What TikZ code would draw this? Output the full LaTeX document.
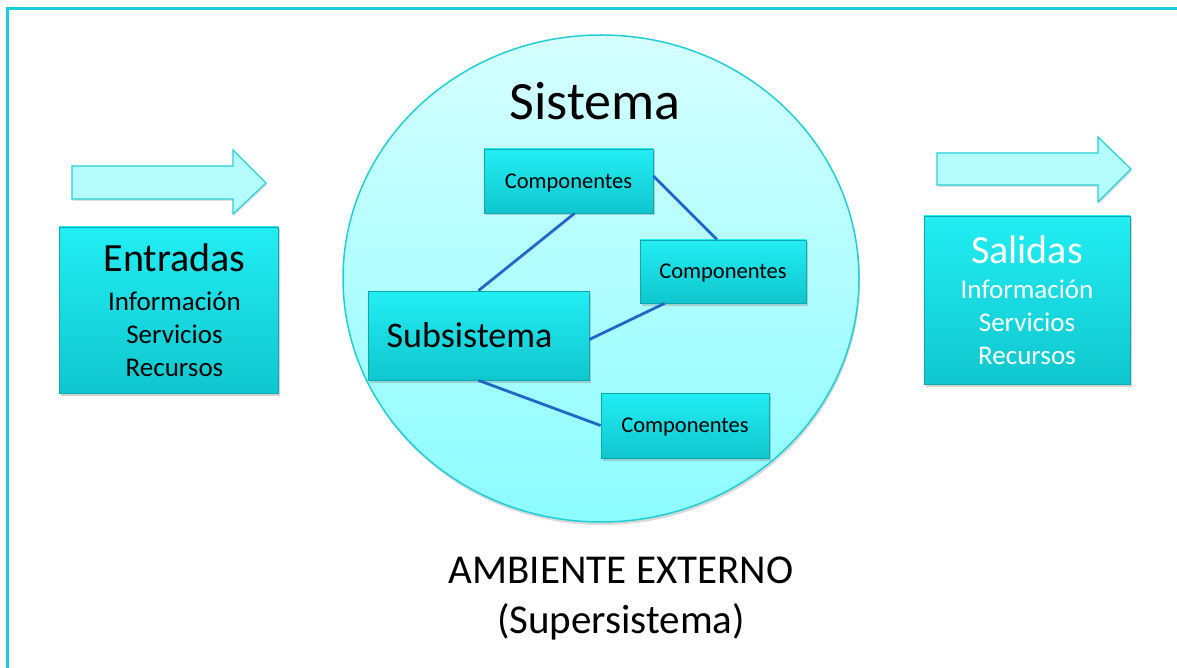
\documentclass[tikz,border=0pt]{standalone}
\usepackage{fontspec}
\setmainfont{Carlito}
\usepackage{xcolor}
\usepackage{tikz}
\usetikzlibrary{
	shapes,
	shadows,
	positioning,
	}

\definecolor{marco}{RGB}{26,206,217}
\definecolor{flechafondo}{RGB}{181,252,253}
\definecolor{flechaborde}{RGB}{38,208,216}
\definecolor{cajaarriba}{RGB}{34,238,243}
\definecolor{cajaabajo}{RGB}{16,198,206}
\definecolor{cajaborde}{RGB}{14,168,176}
\definecolor{azul}{RGB}{31,104,200}
\definecolor{circarriba}{RGB}{214,255,255}
\definecolor{circabajo}{RGB}{140,252,255}
\definecolor{circborde}{RGB}{34,206,214}

\begin{document}
\begin{tikzpicture}[x=1pt, y=-1pt,
	caja/.style={draw=cajaborde, line width=0.8pt, top color=cajaarriba, bottom color=cajaabajo, align=center, inner sep=0pt, drop shadow={opacity=0.35, shadow xshift=1.5pt, shadow yshift=-2.5pt}},
	comp/.style={caja, minimum height=64pt, text depth=0pt, font=\fontsize{22.5}{27}\selectfont},
	flecha/.style={draw=flechaborde, line width=1.2pt, fill=flechafondo, drop shadow={opacity=0.25, shadow xshift=1pt, shadow yshift=-2pt}},
	enlace/.style={draw=azul, line width=2.8pt},
	]
	\useasboundingbox (0,0) rectangle (1177,668);
	\draw[marco, line width=3.5pt] (7.5,668) |- (1177,8.5);
	\draw[flecha] (72,166) -- (233,166) -- (233,150) -- (266,183) -- (233,214) -- (233,199) -- (72,199) -- cycle;
	\draw[flecha] (937,153) -- (1098,153) -- (1098,137) -- (1131,169) -- (1098,202) -- (1098,185) -- (937,185) -- cycle;
	\node[ellipse, draw=circborde, line width=1.5pt, top color=circarriba, bottom color=circabajo, minimum width=516pt, minimum height=487pt, drop shadow={opacity=0.3, shadow xshift=1pt, shadow yshift=-3pt}] (sis) at (601,278.5) {};
	\node[font=\fontsize{54}{60}\selectfont, inner sep=0pt] (tsis) at (595,101) {Sistema};
	\node[caja, minimum width=219pt, minimum height=166pt, font=\fontsize{27}{33}\selectfont] (ent) at (168.5,310) {{\fontsize{40}{40}\selectfont\hspace*{12pt}Entradas}\\[6pt]\hspace*{12pt}Información\\\hspace*{12pt}Servicios\\\hspace*{12pt}Recursos};
	\node[caja, minimum width=206pt, minimum height=168pt, font=\fontsize{27}{33}\selectfont, text=white] (sal) at (1027,300) {{\fontsize{40}{40}\selectfont Salidas}\\[2pt]Información\\Servicios\\Recursos};
	\node[comp, minimum width=169pt] (c1) at (568.5,181) {Componentes};
	\node[comp, minimum width=166pt, minimum height=63pt] (c2) at (723,271.5) {Componentes};
	\node[caja, minimum width=221pt, minimum height=89pt, text depth=0pt, font=\fontsize{36}{40}\selectfont] (sub) at (478.5,335.5) {Subsistema\hspace*{18pt}};
	\node[comp, minimum width=168pt, minimum height=65pt] (c3) at (685,425.5) {Componentes};
	\draw[enlace] (sub.north) -- ([xshift=6pt]c1.south);
	\draw[enlace] ([yshift=5pt]c1.east) -- ([xshift=-6pt]c2.north);
	\draw[enlace] ([yshift=-4pt]sub.east) -- ([xshift=25pt]c2.south west);
	\draw[enlace] (sub.south) -- (c3.west);
	\node[font=\fontsize{41}{50}\selectfont, align=center, inner sep=0pt] (amb) at (621,598) {AMBIENTE EXTERNO\\(Supersistema)};
\end{tikzpicture}
\end{document}
